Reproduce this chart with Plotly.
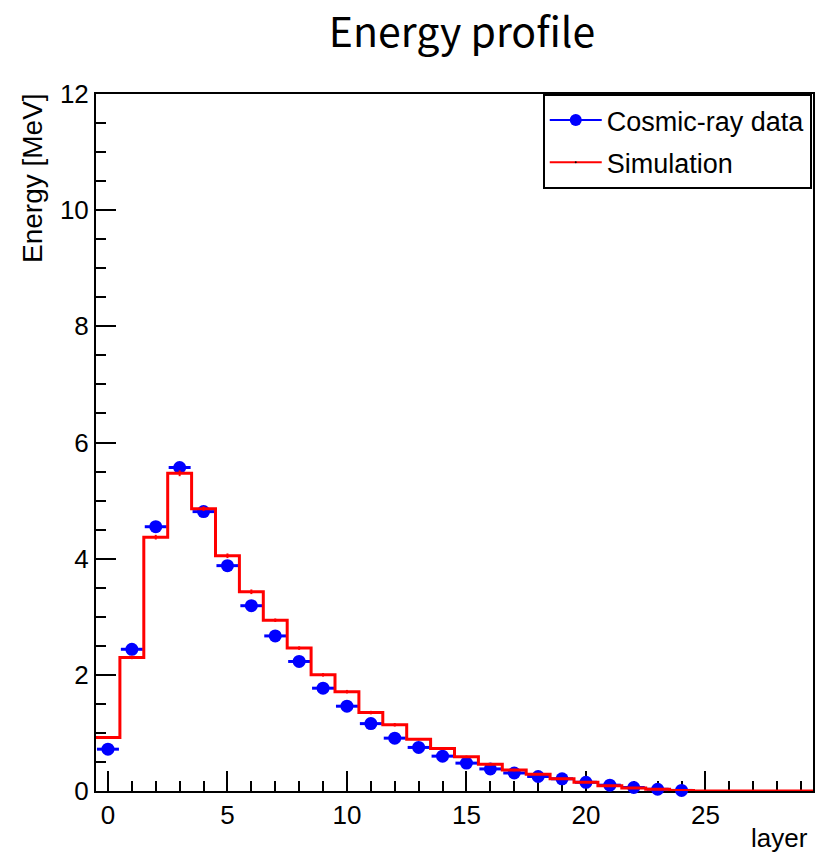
import plotly.graph_objects as go

# ---- data ----
layers_data = list(range(25))
data_energy = [0.72, 2.44, 4.55, 5.57, 4.81, 3.88, 3.19, 2.67, 2.23, 1.77,
               1.46, 1.16, 0.91, 0.75, 0.60, 0.48, 0.38, 0.31, 0.25, 0.21,
               0.15, 0.10, 0.06, 0.03, 0.01]
data_xerr = [0.46] * 25

layers_sim = list(range(30))
sim_energy = [0.92, 2.30, 4.37, 5.47, 4.86, 4.05, 3.43, 2.94, 2.46, 2.00,
              1.71, 1.35, 1.14, 0.89, 0.73, 0.59, 0.46, 0.36, 0.29, 0.21,
              0.15, 0.09, 0.05, 0.03, 0.01, 0.0, 0.0, 0.0, 0.0, 0.0]
sim_err = [0.02, 0.03, 0.04, 0.05, 0.04, 0.04, 0.04, 0.03, 0.03, 0.03,
           0.03, 0.03, 0.03, 0.02, 0.02, 0.02, 0.02, 0.02, 0.01, 0.01,
           0.01, 0.01, 0.01, 0.0, 0.0, 0.0, 0.0, 0.0, 0.0, 0.0]

x_ticks = [0, 5, 10, 15, 20, 25]
y_ticks = [0, 2, 4, 6, 8, 10, 12]

bin_edges = [l - 0.5 for l in layers_sim] + [layers_sim[-1] + 0.5]
step_y = sim_energy + [sim_energy[-1]]

FONT = "Liberation Sans, Arial, sans-serif"

fig = go.Figure()

# data points
fig.add_trace(go.Scatter(
    x=layers_data, y=data_energy, mode="markers",
    marker=dict(size=13, color="blue"),
    error_x=dict(type="data", array=data_xerr, color="blue", thickness=3, width=0),
    cliponaxis=False, showlegend=False))

# simulation histogram (steps)
fig.add_trace(go.Scatter(
    x=bin_edges, y=step_y, mode="lines", line_shape="hv",
    line=dict(color="red", width=3), showlegend=False))

# simulation error ticks
fig.add_trace(go.Scatter(
    x=layers_sim, y=sim_energy, mode="markers",
    marker=dict(size=1, color="red"),
    error_y=dict(type="data", array=sim_err, color="red", thickness=2, width=0),
    showlegend=False))

# legend entries
fig.add_trace(go.Scatter(
    x=[None], y=[None], mode="lines+markers", name="Cosmic-ray data",
    line=dict(color="blue", width=2), marker=dict(color="blue", size=12),
    legendgroup="a"))
fig.add_trace(go.Scatter(
    x=[None], y=[None], mode="lines+markers", name="Simulation",
    line=dict(color="red", width=2), marker=dict(color="black", size=2),
    legendgroup="b"))

axis_common = dict(
    showline=True, linecolor="black", linewidth=2, mirror=True,
    ticks="inside", ticklen=20, tickwidth=2, tickcolor="black",
    showgrid=False, zeroline=False, layer="below traces",
    tickfont=dict(family=FONT, size=26, color="black"),
)

fig.update_xaxes(range=[-0.5, 29.5], tickvals=x_ticks,
                 minor=dict(ticks="inside", ticklen=10, dtick=1, tick0=0,
                            tickwidth=2, tickcolor="black", showgrid=False),
                 **axis_common)
fig.update_yaxes(range=[0, 12], tickvals=y_ticks,
                 minor=dict(ticks="inside", ticklen=10, dtick=0.5, tick0=0,
                            tickwidth=2, tickcolor="black", showgrid=False),
                 **axis_common)

fig.update_layout(
    width=818, height=852,
    margin=dict(l=96, r=3, t=94, b=61),
    paper_bgcolor="white", plot_bgcolor="white",
    font=dict(family=FONT, color="black"),
    title=dict(text="Energy profile", x=462 / 818, xanchor="center",
               xref="container", y=1 - 33 / 852, yanchor="middle",
               yref="container",
               font=dict(family="Noto Sans CJK JP, Liberation Sans", size=41, color="black")),
    legend=dict(x=(544 - 96) / 719, y=1, xanchor="left", yanchor="top",
                bgcolor="white", bordercolor="black", borderwidth=2,
                font=dict(family=FONT, size=27, color="black"),
                itemwidth=52, tracegroupgap=4, traceorder="grouped"),
    annotations=[
        dict(text="Energy [MeV]", xref="paper", yref="paper", x=0, y=1,
             xshift=-64, yshift=3, xanchor="center", yanchor="top",
             textangle=-90, showarrow=False,
             font=dict(family=FONT, size=28, color="black")),
        dict(text="layer", xref="paper", yref="paper", x=1, y=0,
             xshift=-3, yshift=-30, xanchor="right", yanchor="top",
             showarrow=False,
             font=dict(family=FONT, size=26, color="black")),
    ],
)

fig.write_html("out.html")
